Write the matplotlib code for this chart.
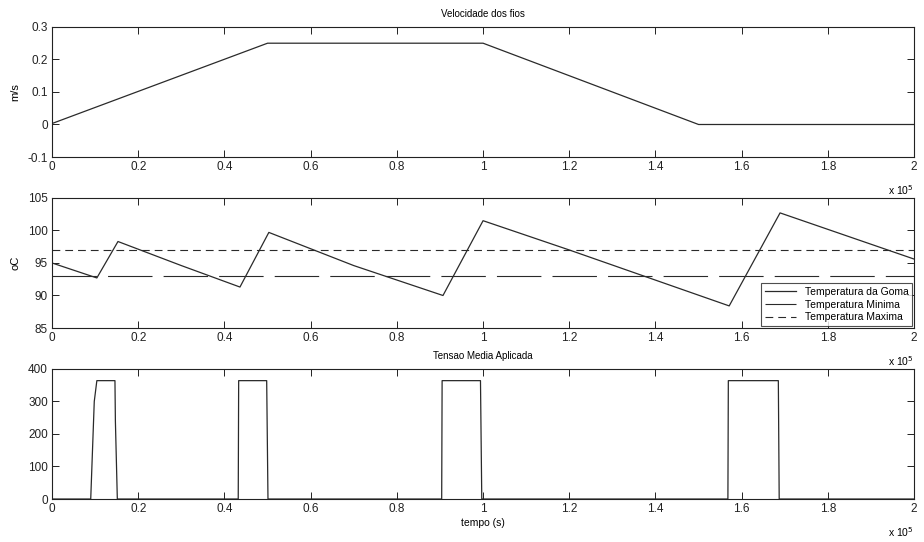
import numpy as np
import matplotlib
matplotlib.use("Agg")
from matplotlib import pyplot as plt
from matplotlib.ticker import FuncFormatter, MultipleLocator

plt.rcParams['font.family'] = ['Liberation Sans', 'DejaVu Sans']

# velocidade dos fios (m/s)
vel_t = [0, 0.5e5, 1.0e5, 1.5e5, 2.0e5]
vel_v = [0.003, 0.25, 0.25, 0.0, 0.0]

# temperatura da goma (oC)
temp_t = [0, 0.104e5, 0.153e5, 0.30e5, 0.436e5, 0.503e5, 0.70e5, 0.907e5,
          1.0e5, 1.2e5, 1.571e5, 1.689e5, 2.0e5]
temp_v = [95.0, 92.7, 98.3, 94.6, 91.3, 99.7, 94.6, 90.0,
          101.5, 97.0, 88.4, 102.7, 95.6]
temp_min = 93.0
temp_max = 97.0

# tensao media aplicada
tens_t = [0, 0.0898e5, 0.098e5, 0.104e5, 0.146e5, 0.147e5, 0.1515e5,
          0.432e5, 0.433e5, 0.498e5, 0.501e5,
          0.904e5, 0.905e5, 0.994e5, 0.997e5,
          1.568e5, 1.569e5, 1.685e5, 1.687e5, 2.0e5]
tens_v = [0, 0, 300, 364, 364, 240, 0,
          0, 364, 364, 0,
          0, 364, 364, 0,
          0, 364, 364, 0, 0]

LINE = '#2a2a2a'
FS = 8.5

fig = plt.figure(figsize=(9.24, 5.42), dpi=100)
ax1 = fig.add_axes([0.0563, 0.7103, 0.933, 0.24])
ax2 = fig.add_axes([0.0563, 0.3948, 0.933, 0.24])
ax3 = fig.add_axes([0.0563, 0.0793, 0.933, 0.24])

xfmt = FuncFormatter(lambda v, p: "%g" % round(v / 1e5, 1))

for ax in (ax1, ax2, ax3):
    ax.set_xlim(0, 2e5)
    ax.xaxis.set_major_locator(MultipleLocator(0.2e5))
    ax.xaxis.set_major_formatter(xfmt)
    ax.tick_params(direction='in', top=True, right=True, labelsize=FS,
                   length=5, width=0.7, colors='#222222', pad=3)
    for s in ax.spines.values():
        s.set_linewidth(0.8)
        s.set_color('#222222')
    ax.text(1.0, -0.2, r'x 10$^5$', transform=ax.transAxes, ha='right',
            va='top', fontsize=7.5)

ax1.plot(vel_t, vel_v, color=LINE, lw=0.9)
ax1.set_ylim(-0.1, 0.3)
ax1.yaxis.set_major_locator(MultipleLocator(0.1))
ax1.yaxis.set_major_formatter(FuncFormatter(lambda v, p: "%g" % round(v, 1)))
ax1.set_ylabel("m/s", fontsize=8)
ax1.yaxis.set_label_coords(-0.037, 0.5)
ax1.set_title("Velocidade dos fios", fontsize=7, pad=7)

ax2.plot(temp_t, temp_v, color=LINE, lw=0.9, label="Temperatura da Goma")
ax2.plot([0, 2e5], [temp_min, temp_min], color=LINE, lw=0.8,
         linestyle=(0, (40, 10)), label="Temperatura Minima")
ax2.plot([0, 2e5], [temp_max, temp_max], color=LINE, lw=0.8,
         linestyle=(0, (7, 4.5)), label="Temperatura Maxima")
ax2.set_ylim(85, 105)
ax2.yaxis.set_major_locator(MultipleLocator(5))
ax2.set_ylabel("oC", fontsize=8)
ax2.yaxis.set_label_coords(-0.037, 0.5)
leg = ax2.legend(loc='lower right', fontsize=7.5, frameon=True, fancybox=False,
                 borderaxespad=0.2, handlelength=3.0, labelspacing=0.25,
                 borderpad=0.35, handletextpad=0.8)
leg.get_frame().set_edgecolor('#222222')
leg.get_frame().set_linewidth(0.8)

ax3.plot(tens_t, tens_v, color=LINE, lw=0.9)
ax3.set_ylim(0, 400)
ax3.yaxis.set_major_locator(MultipleLocator(100))
ax3.set_title("Tensao Media Aplicada", fontsize=7, pad=7)
ax3.set_xlabel("tempo (s)", fontsize=7.5, labelpad=2)

fig.savefig("out.png", dpi=100)
